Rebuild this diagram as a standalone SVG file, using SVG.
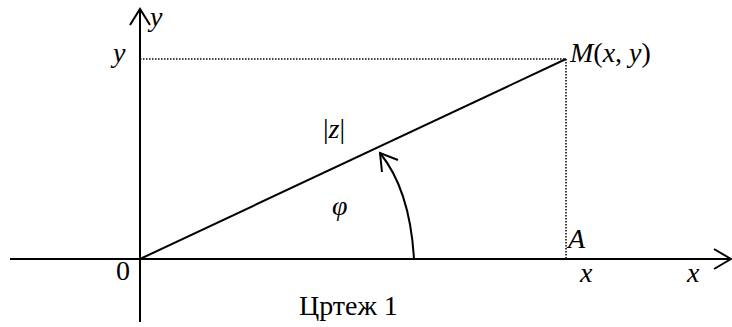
<svg xmlns="http://www.w3.org/2000/svg" width="732" height="327" viewBox="0 0 732 327">
<style>
.ax{stroke:#000;stroke-width:2;fill:none}
.dot{stroke:#000;stroke-width:1.5;stroke-dasharray:1.5 1.5;fill:none}
</style>
<rect width="732" height="327" fill="#fff"/>
<g id="connectors">
<line class="ax" x1="140" y1="322" x2="140" y2="9"/>
<polyline class="ax" points="130,25 140,9 150,25"/>
<line class="ax" x1="10" y1="259" x2="731" y2="259"/>
<polyline class="ax" points="714,249 731,259 714,269"/>
<line class="dot" x1="140" y1="59" x2="566" y2="59"/>
<line class="dot" x1="566" y1="59" x2="566" y2="259"/>
<line class="ax" x1="140" y1="259" x2="566" y2="59"/>
<path class="ax" d="M414,259 Q410,190 380,153"/>
<polyline class="ax" points="382,172 380,153 398,160"/>
</g>
<g id="labels">
<text x="150" y="26" font-family="Liberation Serif" font-size="28" font-style="italic">y</text>
<text x="113" y="62" font-family="Liberation Serif" font-size="28" font-style="italic">y</text>
<text x="570" y="62" font-family="Liberation Serif" font-size="28"><tspan font-style="italic">M</tspan>(<tspan font-style="italic">x</tspan>, <tspan font-style="italic">y</tspan>)</text>
<text x="323" y="138" font-family="Liberation Serif" font-size="28">|<tspan font-style="italic">z</tspan>|</text>
<text x="332" y="215" font-family="Liberation Serif" font-size="28" font-style="italic">φ</text>
<text x="568" y="248" font-family="Liberation Serif" font-size="28" font-style="italic">A</text>
<text x="116" y="280" font-family="Liberation Serif" font-size="28">0</text>
<text x="580" y="282" font-family="Liberation Serif" font-size="28" font-style="italic">x</text>
<text x="687" y="282" font-family="Liberation Serif" font-size="28" font-style="italic">x</text>
<text x="299" y="315" font-family="Liberation Serif" font-size="28">Цртеж 1</text>
</g>
</svg>
